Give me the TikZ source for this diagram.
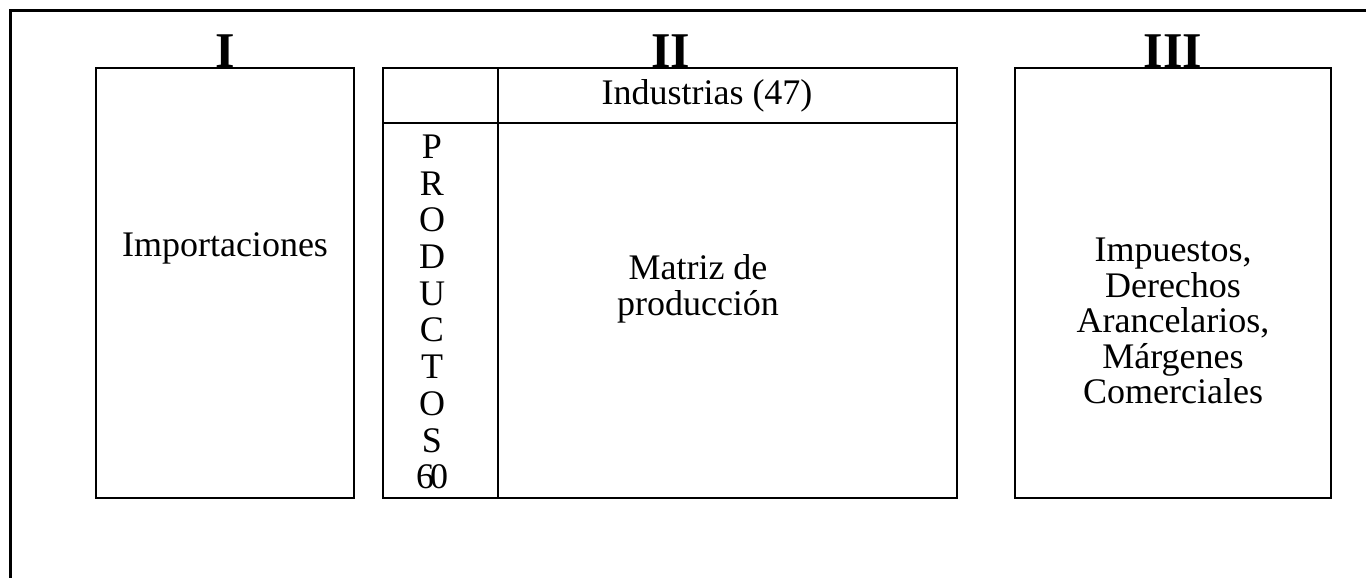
\documentclass[tikz,border=0pt]{standalone}
\usepackage{fontspec}
\setmainfont{Liberation Serif}
\tikzset{
  caja/.style={line width=1.4pt},
  numeral/.style={anchor=base, inner sep=0pt, font=\fontsize{25}{25}\selectfont\bfseries},
  texto/.style={align=center, inner sep=0pt, font=\fontsize{18}{17.8}\selectfont}
}
\begin{document}
\begin{tikzpicture}[x=0.5pt, y=-0.5pt]
            \useasboundingbox (0,0) rectangle (1366,578);
            \draw[line width=1.5pt] (10,578) -- (10,10) -- (1366,10);
            % bloques
            \draw[caja] (96,68) rectangle (354,498);
            \draw[caja] (383,68) rectangle (957,498);
            \draw[caja] (498,68) -- (498,498);
            \draw[caja] (383,123) -- (957,123);
            \draw[caja] (1015,68) rectangle (1331,498);
            \node[numeral] (n1) at (225,67) {I};
            \node[numeral] (n2) at (671,67) {II};
            \node[numeral] (n3) at (1173,67) {III};
            \node[texto] (imp) at (225,248) {Importaciones};
            \node[texto] (ind) at (707,96) {Industrias (47)};
            \node[texto] (mat) at (698,289) {Matriz de\\producción};
            \node[texto] (der) at (1173,321) {Impuestos,\\Derechos\\Arancelarios,\\Márgenes\\Comerciales};
            \foreach \l [count=\i] in {P,R,O,D,U,C,T,O,S,6\kern-2pt 0}
              \node[texto] (p\i) at (432,110+36.7*\i) {\l};
        \end{tikzpicture}
\end{document}
